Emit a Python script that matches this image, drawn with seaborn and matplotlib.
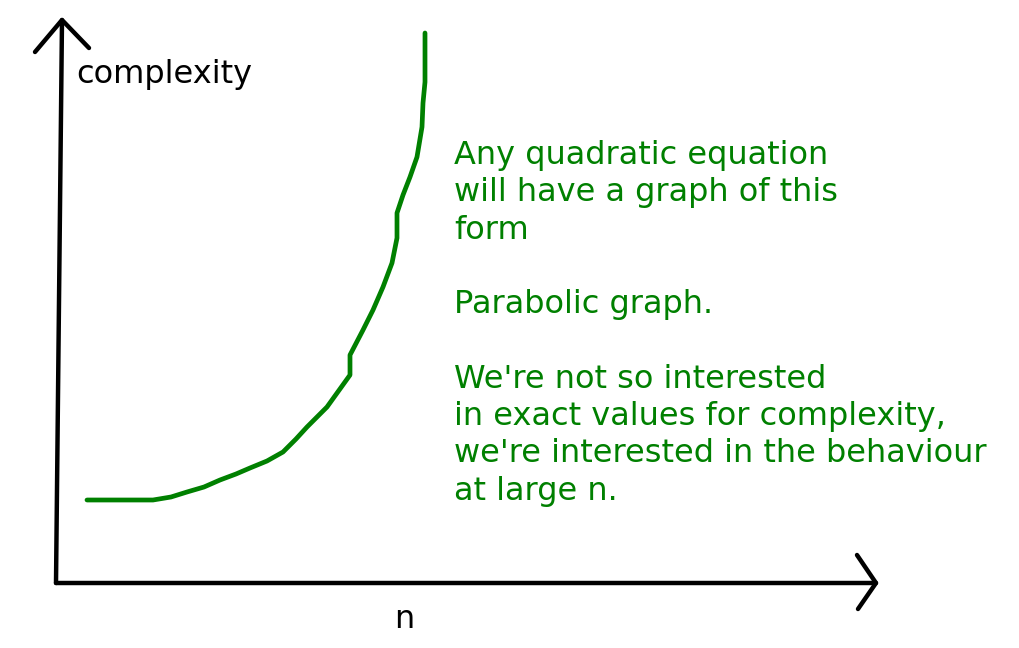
import matplotlib
matplotlib.use("Agg")
import matplotlib.pyplot as plt
import seaborn as sns
import pandas as pd

# hand-drawn quadratic curve, units measured from the axis corner
curve_n = [31, 97, 115, 131, 148, 164, 180, 194, 211, 227, 240, 251, 271,
           294, 294, 307, 317, 327, 336, 341, 341, 347, 354, 361, 366, 367,
           369, 369]
curve_complexity = [83, 83, 86, 91, 96, 103, 109, 115, 122, 131, 144, 156,
                    176, 208, 228, 253, 273, 296, 320, 345, 370, 388, 406,
                    426, 456, 480, 501, 550]

# axis strokes (slightly slanted, as drawn)
y_axis_n = [0, 6]
y_axis_c = [0, 563]
y_head_n = [-21, 6, 33]
y_head_c = [531, 563, 535]
x_axis_n = [0, 820]
x_axis_c = [0, 0]
x_head_n = [801, 820, 802]
x_head_c = [28, 0, -26]

note_lines = [
    "Any quadratic equation",
    "will have a graph of this",
    "form",
    "",
    "Parabolic graph.",
    "",
    "We're not so interested",
    "in exact values for complexity,",
    "we're interested in the behaviour",
    "at large n.",
]

sns.set_style("white")
plt.rcParams["font.family"] = ["DejaVu Sans"]

fig = plt.figure(figsize=(10.2, 6.48), dpi=100)
ax = fig.add_axes([0, 0, 1, 1])

df = pd.DataFrame({"n": curve_n, "complexity": curve_complexity})
sns.lineplot(data=df, x="n", y="complexity", sort=False, estimator=None,
             color="#008000", linewidth=3.4, ax=ax)

for xs, ys in [(y_axis_n, y_axis_c), (y_head_n, y_head_c),
               (x_axis_n, x_axis_c), (x_head_n, x_head_c)]:
    sns.lineplot(x=xs, y=ys, sort=False, estimator=None, color="black",
                 linewidth=3.2, ax=ax, solid_capstyle="round",
                 solid_joinstyle="round")

ax.text(20, 500, "complexity", fontsize=23, color="black",
        ha="left", va="baseline")
ax.text(348, -45, "n", fontsize=23, color="black",
        ha="center", va="baseline")
ax.text(398, 443, "\n".join(note_lines), fontsize=23, color="#008000",
        ha="left", va="top", linespacing=1.262)

ax.set_xlim(-56, 964)
ax.set_ylim(-65, 583)
ax.axis("off")

fig.savefig("out.png", dpi=100)
plt.close(fig)
